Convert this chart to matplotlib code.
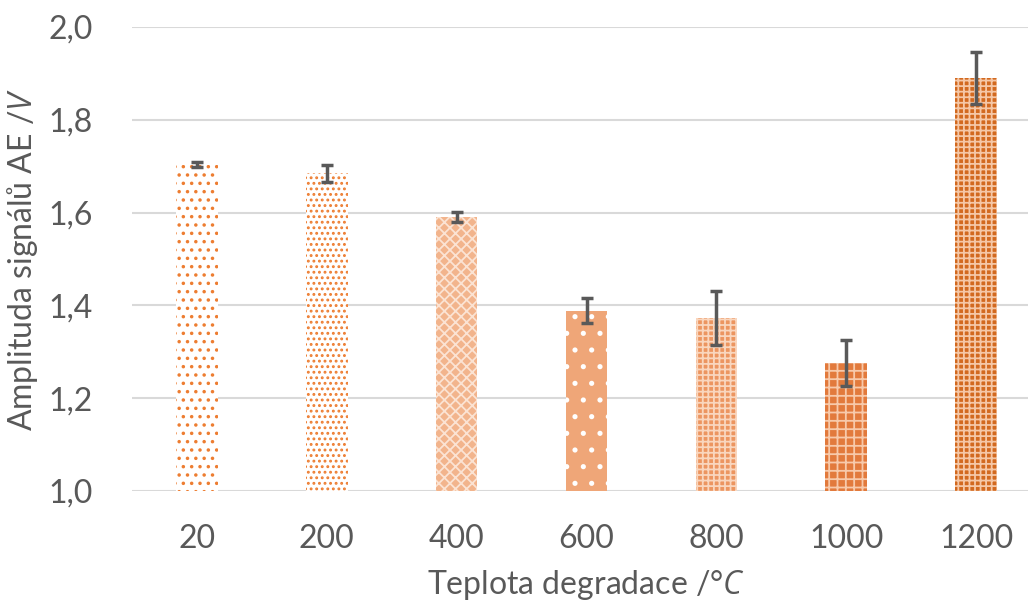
import matplotlib
matplotlib.use("Agg")
import matplotlib.pyplot as plt
from matplotlib.ticker import FuncFormatter

# data
teploty = ["20", "200", "400", "600", "800", "1000", "1200"]
amplituda = [1.703, 1.685, 1.590, 1.388, 1.373, 1.276, 1.890]
chyba = [0.005, 0.018, 0.011, 0.027, 0.058, 0.050, 0.056]

# Excel-like pattern fills (face, hatch colour, hatch)
faces = ["white", "white", "#F2B48C", "#EFA678", "#EC9560", "#E27A3C", "#D2691F"]
hatch_cols = ["#ED7D31", "#ED7D31", "#FBE3D3", "white", "#F9D6BE", "#F7C9AA", "#F5C7A6"]
hatches = ["..", "...", "xxx", ".", "+++", "++", "+++"]

plt.rcParams["font.family"] = ["Lato", "DejaVu Sans"]
plt.rcParams["mathtext.fontset"] = "custom"
plt.rcParams["mathtext.it"] = "Open Sans:italic"
plt.rcParams["mathtext.rm"] = "Lato"
plt.rcParams["hatch.linewidth"] = 1.3

fig = plt.figure(figsize=(10.28, 6.06), dpi=100)
ax = fig.add_axes([132 / 1028, 1 - 491 / 606, 909 / 1028, 464 / 606])

x = range(len(teploty))
for i in x:
    ax.bar(i, amplituda[i] - 1.0, bottom=1.0, width=0.32, color=faces[i],
           edgecolor=hatch_cols[i], hatch=hatches[i], linewidth=0, zorder=2)

ax.errorbar(list(x), amplituda, yerr=chyba, fmt="none", ecolor="#595959",
            elinewidth=2.5, capsize=4, capthick=2.5, zorder=3)

ax.set_ylim(1.0, 2.0)
ax.set_xlim(-0.5, len(teploty) - 0.5)
ax.set_yticks([1.0, 1.2, 1.4, 1.6, 1.8, 2.0])
ax.yaxis.set_major_formatter(FuncFormatter(lambda v, p: f"{v:.1f}".replace(".", ",")))
ax.set_xticks(list(x))
ax.set_xticklabels(teploty)

ax.grid(axis="y", color="#D9D9D9", linewidth=1.5, zorder=0)
ax.set_axisbelow(True)
for s in ax.spines.values():
    s.set_visible(False)
ax.tick_params(length=0, labelsize=23, colors="#595959")
ax.tick_params(axis="x", pad=24)
ax.tick_params(axis="y", pad=28)

ax.set_xlabel("Teplota degradace /$\\mathit{°C}$", fontsize=23, color="#595959", labelpad=10)
ax.set_ylabel("Amplituda signálů AE /$\\mathit{V}$", fontsize=23, color="#595959", labelpad=6)

fig.savefig("out.png", dpi=100)
